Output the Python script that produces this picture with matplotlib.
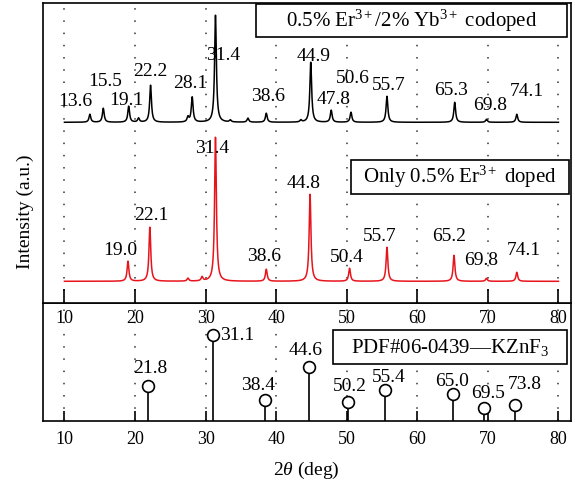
import numpy as np
import matplotlib
matplotlib.use("Agg")
import matplotlib.pyplot as plt
from matplotlib.patches import Rectangle

plt.rcParams["font.family"] = ["Liberation Serif", "DejaVu Serif"]
plt.rcParams["mathtext.fontset"] = "custom"
plt.rcParams["mathtext.rm"] = "Liberation Serif"
plt.rcParams["mathtext.it"] = "Liberation Serif:italic"
plt.rcParams["mathtext.bf"] = "Liberation Serif:bold"

# peak positions / heights (arbitrary intensity units)
codoped_pos = [13.6, 15.5, 19.1, 20.5, 22.2, 27.5, 28.1, 31.4, 33.5, 36.0,
               38.6, 43.5, 44.9, 47.8, 50.6, 55.7, 65.3, 69.8, 74.1]
codoped_hgt = [8, 14, 16, 4, 37, 5, 25, 107, 2, 4,
               9, 2, 60, 12, 10, 26, 20, 3, 8]
codoped_base = 181

er_pos = [19.0, 22.1, 27.5, 29.5, 31.4, 38.6, 44.8, 50.4, 55.7, 65.2, 69.8, 74.1]
er_hgt = [20, 54, 3, 4, 144, 12, 87, 13, 34, 26, 3, 9]
er_base = 22

pdf_pos = [21.8, 31.1, 38.4, 44.6, 50.2, 55.4, 65.0, 69.5, 73.8]
pdf_int = [35, 86, 21, 54, 19, 31, 27, 13, 16]

# peak labels shown on the chart
codoped_labels = ["13.6", "15.5", "19.1", "22.2", "28.1", "31.4", "38.6",
                  "44.9", "47.8", "50.6", "55.7", "65.3", "69.8", "74.1"]
er_labels = ["19.0", "22.1", "31.4", "38.6", "44.8", "50.4", "55.7",
             "65.2", "69.8", "74.1"]
pdf_labels = ["21.8", "31.1", "38.4", "44.6", "50.2", "55.4", "65.0", "69.5", "73.8"]

# label anchor positions (layout only)
codoped_lab_xy = [(11.6, 202), (15.7, 222), (18.8, 203), (22.2, 232), (27.8, 220),
                  (32.5, 248), (38.8, 207), (45.3, 247), (48.2, 204), (50.8, 225),
                  (56.0, 218), (64.8, 213), (70.3, 198), (75.5, 212)]
er_lab_xy = [(17.9, 53), (22.3, 88), (30.9, 155), (38.3, 47), (43.9, 120),
             (50.0, 46), (54.7, 67), (64.5, 67), (69.1, 43), (75.1, 53)]
pdf_lab_xy = [(22.2, 53), (34.5, 86), (37.5, 36), (44.2, 71), (50.5, 35),
              (56.0, 44), (64.9, 40), (70.0, 28), (75.2, 37)]


def profile(x, pos, hgt, base, hw=0.15):
    y = np.full_like(x, float(base))
    for p, h in zip(pos, hgt):
        y += h / (1 + ((x - p) / hw) ** 2)
    return y


def label_box(ax, x0, x1, y0, y1, text):
    ax.add_patch(Rectangle((x0, y0), x1 - x0, y1 - y0, facecolor="white",
                           edgecolor="black", linewidth=1.2, zorder=5))
    ax.text((x0 + x1) / 2, (y0 + y1) / 2, text, ha="center", va="center",
            fontsize=15, zorder=6)


tt = np.arange(10, 80.001, 0.02)

fig = plt.figure(figsize=(5.75, 4.87), dpi=100)
ax2 = fig.add_axes([0.0753, 0.1355, 0.918, 0.2417])
ax1 = fig.add_axes([0.0753, 0.3772, 0.918, 0.616])

fs = 14
for ax in (ax1, ax2):
    ax.set_xlim(7, 81.8)
    ax.set_xticks(np.arange(10, 81, 10))
    ax.set_yticks([])
    for s in ax.spines.values():
        s.set_linewidth(1.2)
    ax.grid(axis="x", color="#333333", linestyle=(0, (1, 7)), linewidth=1.1)
    ax.tick_params(axis="x", direction="in", width=1.2, labelsize=13, pad=5)

ax1.tick_params(axis="x", length=10)
ax2.tick_params(axis="x", length=7, pad=7)

# top panel: measured patterns
ax1.set_ylim(0, 300)
ax1.plot(tt, profile(tt, codoped_pos, codoped_hgt, codoped_base), color="black", lw=1.1)
ax1.plot(tt, profile(tt, er_pos, er_hgt, er_base), color="#e8141c", lw=1.1)
for t, (x, y) in zip(codoped_labels, codoped_lab_xy):
    ax1.text(x, y, t, ha="center", va="center", fontsize=fs)
for t, (x, y) in zip(er_labels, er_lab_xy):
    ax1.text(x, y, t, ha="center", va="center", fontsize=fs)

label_box(ax1, 37.1, 81.2, 266, 299, r"0.5% Er$^{3+}$/2% Yb$^{3+}$ codoped")
label_box(ax1, 50.6, 81.5, 109, 143, r"Only 0.5% Er$^{3+}$ doped")

# bottom panel: PDF reference
ax2.set_ylim(0, 118)
ax2.vlines(pdf_pos, 0, pdf_int, color="black", lw=1.2)
ax2.plot(pdf_pos, pdf_int, "o", ms=8.5, mfc="white", mec="black", mew=1.2)
for t, (x, y) in zip(pdf_labels, pdf_lab_xy):
    ax2.text(x, y, t, ha="center", va="center", fontsize=fs)
label_box(ax2, 48.05, 81.2, 57, 91, r"PDF#06-0439—KZnF$_3$")

fig.text(0.044, 0.565, "Intensity (a.u.)", rotation=90, ha="center", va="center", fontsize=fs)
fig.text(0.532, 0.035, r"2$\theta$ (deg)", ha="center", va="center", fontsize=fs)

fig.savefig("out.png", dpi=100)
